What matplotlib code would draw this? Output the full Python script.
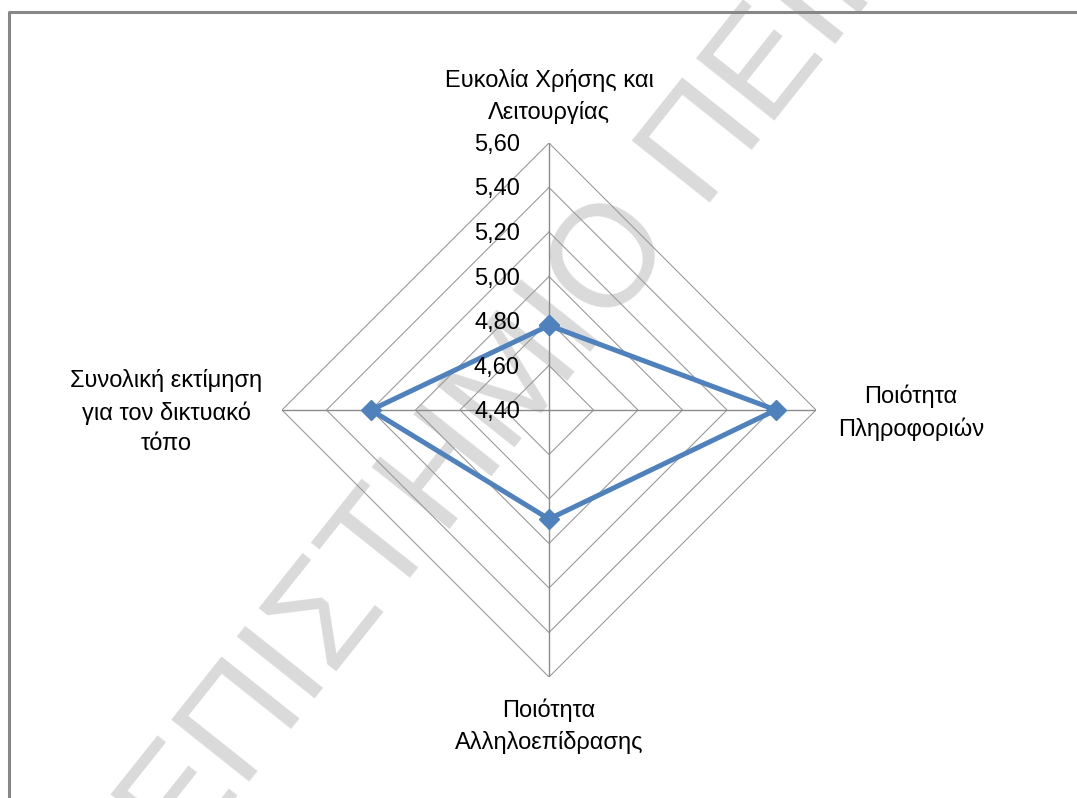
import numpy as np
import matplotlib
matplotlib.use('Agg')
import matplotlib.pyplot as plt
from matplotlib.lines import Line2D
from matplotlib.transforms import offset_copy

categories = ['Ευκολία Χρήσης και\nΛειτουργίας', 'Ποιότητα\nΠληροφοριών',
              'Ποιότητα\nΑλληλοεπίδρασης', 'Συνολική εκτίμηση\nγια τον δικτυακό\nτόπο']
values = [4.78, 5.42, 4.89, 5.20]
ticks = [4.40, 4.60, 4.80, 5.00, 5.20, 5.40, 5.60]
tick_labels = ['4,40', '4,60', '4,80', '5,00', '5,20', '5,40', '5,60']
watermark = 'ΠΑΝΕΠΙΣΤΗΜΙΟ ΠΕΙΡΑΙΩΣ'

plt.rcParams['font.family'] = ['Liberation Sans', 'DejaVu Sans']

W, H = 1077, 798
fig = plt.figure(figsize=(W / 100, H / 100), dpi=100)
fig.patch.set_facecolor('white')

# watermark (behind the chart)
fig.text(524 / W, 1 - 376 / H, watermark, rotation=51.5, rotation_mode='anchor',
         ha='center', va='center', fontsize=104, color='#dadada', zorder=-1)

# outer frame (left and top)
fig.add_artist(Line2D([8.5 / W, 8.5 / W, 1.0], [0.0, 1 - 12 / H, 1 - 12 / H],
                      transform=fig.transFigure, color='#878787', lw=2.2))

cx, cy, R = 549, 410, 267
ax = fig.add_axes([(cx - R) / W, (H - cy - R) / H, 2 * R / W, 2 * R / H], projection='polar')
ax.set_theta_zero_location('N')
ax.set_theta_direction(-1)
ax.patch.set_alpha(0)
ax.grid(False)
ax.spines['polar'].set_visible(False)
ax.set_xticks([])
ax.set_yticks([])
ax.set_ylim(ticks[0], ticks[-1])

n = len(categories)
angles = np.linspace(0, 2 * np.pi, n, endpoint=False)
closed = np.concatenate([angles, angles[:1]])

for t in ticks[1:]:
    ax.plot(closed, [t] * (n + 1), color='#9a9a9a', lw=0.8, zorder=2)
for a in angles:
    ax.plot([a, a], [ticks[0], ticks[-1]], color='#8c8c8c', lw=1.0, zorder=2)

vals = values + values[:1]
ax.plot(closed, vals, color='#4F81BD', lw=3.6, marker='D', ms=10,
        markerfacecolor='#4F81BD', markeredgecolor='#4F81BD', zorder=5, clip_on=False)

# radial tick labels along the top spoke
tr = offset_copy(ax.transData, fig=fig, x=-29, y=-2, units='dots')
for t, lab in zip(ticks, tick_labels):
    ax.text(angles[0], t, lab, transform=tr, ha='right', va='center', fontsize=17,
            color='#000000', zorder=6)

# category labels
offsets = [(0, 46), (95, -3), (0, -49), (-116, -2)]
for a, lab, (dx, dy) in zip(angles, categories, offsets):
    trc = offset_copy(ax.transData, fig=fig, x=dx, y=dy, units='dots')
    ax.text(a, ticks[-1], lab, transform=trc, ha='center', va='center', fontsize=17,
            linespacing=1.5, color='#000000')

fig.savefig('out.png', dpi=100, facecolor='white')
